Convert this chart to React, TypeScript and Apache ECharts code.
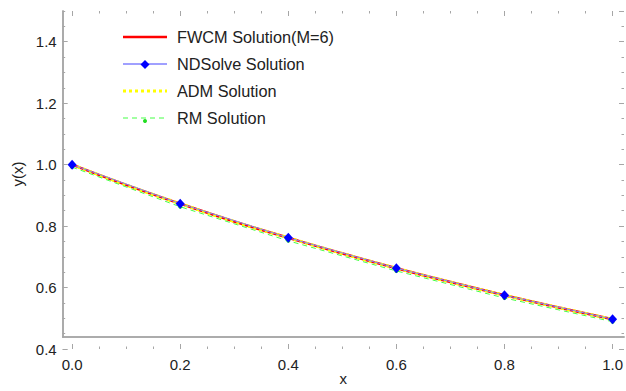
import React, { useEffect, useRef } from "react";
import * as echarts from "echarts";

// Solution curves sampled every 0.1 on [0, 1]
const xFine = [0, 0.1, 0.2, 0.3, 0.4, 0.5, 0.6, 0.7, 0.8, 0.9, 1.0];
const fwcmValues = [1.0, 0.934, 0.873, 0.815, 0.762, 0.711, 0.663, 0.618, 0.575, 0.535, 0.497];
const admValues = [1.0, 0.934, 0.873, 0.815, 0.762, 0.711, 0.663, 0.618, 0.575, 0.535, 0.497];

// Discrete solutions at the nodes
const xNodes = [0, 0.2, 0.4, 0.6, 0.8, 1.0];
const ndsolveValues = [1.0, 0.873, 0.762, 0.663, 0.575, 0.497];
const rmValues = [0.992, 0.863, 0.752, 0.654, 0.566, 0.489];

const seriesNames = ["FWCM Solution(M=6)", "NDSolve Solution", "ADM Solution", "RM Solution"];

const FRAME = "#a6a6a6";
const TEXT = "#222222";
const FONT = "'Liberation Sans', Arial, sans-serif";

const pairs = (xs: number[], ys: number[]) => xs.map((x, i) => [x, ys[i]]);

export default function App() {
  const ref = useRef<HTMLDivElement>(null);

  useEffect(() => {
    if (!ref.current) return;
    const chart = echarts.init(ref.current, null, { renderer: "svg" });

    const plain = { axisLine: { show: false }, splitLine: { show: false } };

    const frameAxis = (extra: any) => ({
      type: "value",
      min: 0,
      max: 1,
      axisLine: { show: true, lineStyle: { color: FRAME, width: 1.5 } },
      axisTick: { show: false },
      axisLabel: { show: false },
      splitLine: { show: false },
      ...extra,
    });

    const xTickAxis = (position: string, labels: boolean) => ({
      type: "value",
      gridIndex: 1,
      position,
      min: 0,
      max: 1,
      interval: 0.2,
      ...plain,
      axisTick: { show: true, inside: true, length: 5, lineStyle: { color: FRAME, width: 1 } },
      minorTick: { show: true, splitNumber: 4, length: 2.5, lineStyle: { color: FRAME, width: 1 } },
      axisLabel: labels
        ? { color: TEXT, fontSize: 15, fontFamily: FONT, margin: 8, formatter: (v: number) => v.toFixed(1) }
        : { show: false },
    });

    const yMajorAxis = (position: string, labels: boolean) => ({
      type: "value",
      gridIndex: 2,
      position,
      min: 0.4,
      max: 1.5,
      interval: 0.2,
      ...plain,
      axisTick: { show: true, inside: true, length: 5, lineStyle: { color: FRAME, width: 1 } },
      axisLabel: labels
        ? {
            color: TEXT,
            fontSize: 15,
            fontFamily: FONT,
            margin: 6,
            showMaxLabel: false,
            formatter: (v: number) => v.toFixed(1),
          }
        : { show: false },
    });

    const yMinorAxis = (position: string) => ({
      type: "value",
      gridIndex: 3,
      position,
      min: 0.4,
      max: 1.5,
      interval: 0.05,
      ...plain,
      axisTick: { show: true, inside: true, length: 2.5, lineStyle: { color: FRAME, width: 1 } },
      axisLabel: { show: false },
    });

    const hiddenX = (gridIndex: number) => ({ type: "value", gridIndex, show: false, min: 0, max: 1 });

    const legendRow = (i: number, y: number, icon: any[]) => [
      ...icon,
      {
        type: "text",
        x: 177,
        y,
        style: {
          text: seriesNames[i],
          fill: TEXT,
          font: `16.3px ${FONT}`,
          verticalAlign: "middle",
          align: "left",
        },
      },
    ];

    chart.setOption({
      animation: false,
      backgroundColor: "#ffffff",
      grid: [
        // frame
        { left: 62.7, right: 2, top: 11, bottom: 42 },
        // data area with x ticks
        { left: 72.1, right: 12, top: 11, bottom: 42 },
        // y major ticks
        { left: 62.7, right: 2, top: 11, bottom: 42 },
        // y minor ticks
        { left: 62.7, right: 2, top: 11, bottom: 42 },
      ],
      xAxis: [
        frameAxis({
          gridIndex: 0,
          position: "bottom",
          name: "x",
          nameLocation: "middle",
          nameGap: 34,
          nameTextStyle: { color: TEXT, fontSize: 15, fontFamily: FONT },
        }),
        frameAxis({ gridIndex: 0, position: "top" }),
        xTickAxis("bottom", true),
        xTickAxis("top", false),
        hiddenX(2),
        hiddenX(3),
      ],
      yAxis: [
        frameAxis({
          gridIndex: 0,
          position: "left",
          name: "y(x)",
          nameLocation: "middle",
          nameGap: 38,
          nameTextStyle: { color: TEXT, fontSize: 15, fontFamily: FONT },
        }),
        frameAxis({ gridIndex: 0, position: "right" }),
        { type: "value", gridIndex: 1, show: false, min: 0.4, max: 1.5 },
        yMajorAxis("left", true),
        yMajorAxis("right", false),
        yMinorAxis("left"),
        yMinorAxis("right"),
      ],
      series: [
        {
          name: seriesNames[0],
          type: "line",
          xAxisIndex: 2,
          yAxisIndex: 2,
          data: pairs(xFine, fwcmValues),
          smooth: true,
          showSymbol: false,
          symbol: "none",
          lineStyle: { color: "#ff0000", width: 2.5 },
          z: 2,
        },
        {
          name: seriesNames[1],
          type: "line",
          xAxisIndex: 2,
          yAxisIndex: 2,
          data: pairs(xNodes, ndsolveValues),
          symbol: "diamond",
          symbolSize: [9, 10],
          itemStyle: { color: "#0000ff" },
          lineStyle: { color: "#8080ff", width: 1 },
          z: 5,
        },
        {
          name: seriesNames[2],
          type: "line",
          xAxisIndex: 2,
          yAxisIndex: 2,
          data: pairs(xFine, admValues),
          smooth: true,
          showSymbol: false,
          symbol: "none",
          lineStyle: { color: "#ffff00", width: 3, type: [3, 3] },
          z: 3,
        },
        {
          name: seriesNames[3],
          type: "line",
          xAxisIndex: 2,
          yAxisIndex: 2,
          data: pairs(xNodes, rmValues),
          symbol: "circle",
          symbolSize: 4,
          itemStyle: { color: "#22dd22" },
          lineStyle: { color: "#44ff44", width: 1, type: [5, 4] },
          z: 4,
        },
      ],
      graphic: [
        ...legendRow(0, 37, [
          { type: "line", shape: { x1: 123, y1: 37, x2: 167, y2: 37 }, style: { stroke: "#ff0000", lineWidth: 2.5 } },
        ]),
        ...legendRow(1, 64, [
          { type: "line", shape: { x1: 123, y1: 64, x2: 167, y2: 64 }, style: { stroke: "#8080ff", lineWidth: 1.5 } },
          {
            type: "polygon",
            shape: { points: [[145, 60], [149.5, 64.5], [145, 69], [140.5, 64.5]] },
            style: { fill: "#0000ff" },
          },
        ]),
        ...legendRow(2, 91, [
          {
            type: "line",
            shape: { x1: 123, y1: 91, x2: 167, y2: 91 },
            style: { stroke: "#ffff00", lineWidth: 3, lineDash: [3, 3] },
          },
        ]),
        ...legendRow(3, 118, [
          {
            type: "line",
            shape: { x1: 123, y1: 118, x2: 167, y2: 118 },
            style: { stroke: "#44ff44", lineWidth: 1, lineDash: [5, 4] },
          },
          { type: "circle", shape: { cx: 145, cy: 121, r: 2 }, style: { fill: "#22dd22" } },
        ]),
      ],
    });

    return () => chart.dispose();
  }, []);

  return (
    <div
      ref={ref}
      style={{ position: "fixed", left: 0, top: 0, width: 626, height: 391, background: "#fff" }}
    />
  );
}
